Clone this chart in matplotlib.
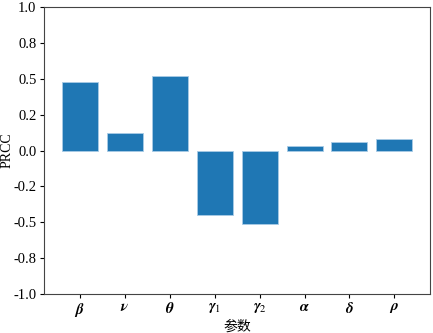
import matplotlib
matplotlib.use('Agg')
import matplotlib.pyplot as plt
from matplotlib.ticker import MultipleLocator, FormatStrFormatter

params = [r'$\mathbfit{\beta}$', r'$\mathbfit{\nu}$', r'$\mathbfit{\theta}$',
          r'$\mathbfit{\gamma}_1$', r'$\mathbfit{\gamma}_2$',
          r'$\mathbfit{\alpha}$', r'$\mathbfit{\delta}$', r'$\mathbfit{\rho}$']
prcc = [0.48, 0.12, 0.52, -0.45, -0.515, 0.03, 0.058, 0.08]

plt.rcParams['font.family'] = ['Liberation Serif', 'Noto Sans CJK SC']
plt.rcParams['mathtext.fontset'] = 'stix'

fig = plt.figure(figsize=(4.33, 3.33), dpi=100)
ax = fig.add_axes([0.102, 0.117, 0.891, 0.862])

ax.bar(range(len(prcc)), prcc, width=0.8, color='#1f77b4', edgecolor='#a9cbe6', linewidth=0.6)
ax.set_xticks(range(len(prcc)))
ax.set_xticklabels(params, fontsize=11)
ax.set_ylim(-1.0, 1.0)
ax.yaxis.set_major_locator(MultipleLocator(0.25))
ax.yaxis.set_major_formatter(FormatStrFormatter('%.1f'))
ax.tick_params(axis='y', labelsize=10.5, length=3, pad=2.5)
ax.tick_params(axis='x', length=3, pad=2)

for s in ax.spines.values():
    s.set_color('#444444')

ax.set_ylabel('PRCC', fontsize=10)
ax.yaxis.set_label_coords(-0.08, 0.5)
ax.set_xlabel('参数', fontsize=10, family=['Noto Sans CJK SC'])
ax.xaxis.set_label_coords(0.5, -0.09)

fig.savefig('out.png', dpi=100)
